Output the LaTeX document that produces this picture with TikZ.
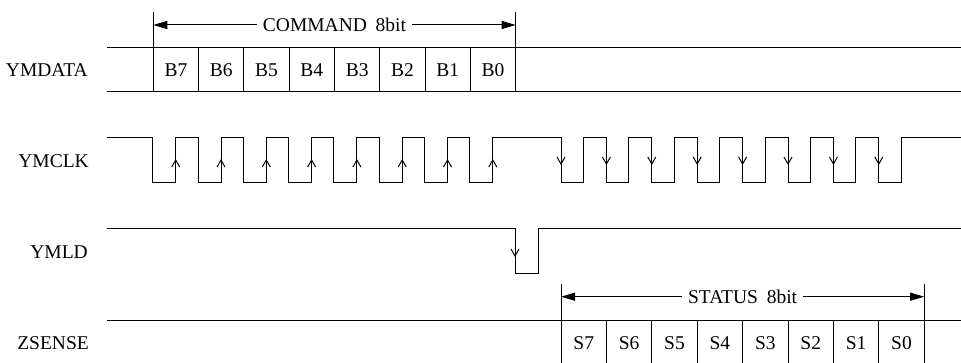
\documentclass[tikz,border=0pt]{standalone}
\usepackage{fontspec}
\setmainfont{Liberation Serif}
\usetikzlibrary{arrows.meta}
\tikzset{
  wave/.style={line width=1pt},
  barb/.style={line width=1pt,-{Straight Barb[length=7pt,width=8pt]}},
  span/.style={line width=1pt,{Triangle[length=14pt,width=8pt]}-{Triangle[length=14pt,width=8pt]}},
  signame/.style={anchor=east,inner sep=0pt},
  bitname/.style={inner sep=0pt},
  spanname/.style={fill=white,inner xsep=6pt,inner ysep=1pt}
}
\begin{document}
\begin{tikzpicture}[x=1pt,y=-1pt,font=\fontsize{19.5}{22}\selectfont]
\useasboundingbox (0,0) rectangle (961,363);
\node[signame](ymdata) at (88,70) {YMDATA};
\node[signame](ymclk) at (89,161) {YMCLK};
\node[signame](ymld) at (88,252) {YMLD};
\node[signame](zsense) at (89,343) {ZSENSE};
\draw[wave] (107,47.5) -- (961,47.5) (107,92) -- (961,92);
\foreach \k in {1,...,7} \draw[wave] ({153.3+45.3*\k},47.5) -- ({153.3+45.3*\k},92);
\coordinate (cmdL) at (153.3,25);
\coordinate (cmdR) at (515.7,25);
\draw[wave] (153.3,11.7) -- (153.3,92) (515.7,11.7) -- (515.7,92);
\path[span] (cmdL) edge node[spanname]{COMMAND\hspace{.45em}8bit\hspace{6pt}} (cmdR);
\foreach \k/\b in {0/7,1/6,2/5,3/4,4/3,5/2,6/1,7/0}
  \node[bitname](b\b) at ({153.3+45.3*\k+22.65},70) {B\b};
\draw[wave] (107,137.5)
  foreach \k in {0,...,7} { -- ({152.7+45.3*\k},137.5) -- ++(0,45) -- ++(23,0) -- ++(0,-45) }
  foreach \k in {0,...,7} { -- ({561+45.4*\k},137.5) -- ++(0,45) -- ++(22.4,0) -- ++(0,-45) }
  -- (961,137.5);
\foreach \k in {0,...,7} \draw[barb] ({152.7+45.3*\k+23},182.5) -- ({152.7+45.3*\k+23},159);
\foreach \k in {0,...,7} \draw[barb] ({561+45.4*\k},137.5) -- ({561+45.4*\k},165);
\draw[wave] (107,229) -- (515,229) -- (515,274) -- (538,274) -- (538,229) -- (961,229);
\draw[barb] (515,229) -- (515,257);
\draw[wave] (107,320) -- (961,320);
\foreach \k in {1,...,7} \draw[wave] ({561+45.4*\k},320) -- ({561+45.4*\k},363);
\coordinate (stsL) at (561,296.7);
\coordinate (stsR) at (924.2,296.7);
\draw[wave] (561,284) -- (561,363) (924.2,284) -- (924.2,363);
\path[span] (stsL) edge node[spanname]{STATUS\hspace{.45em}8bit\hspace{6pt}} (stsR);
\foreach \k/\b in {0/7,1/6,2/5,3/4,4/3,5/2,6/1,7/0}
  \node[bitname](s\b) at ({561+45.4*\k+22.7},343) {S\b};
\end{tikzpicture}
\end{document}
